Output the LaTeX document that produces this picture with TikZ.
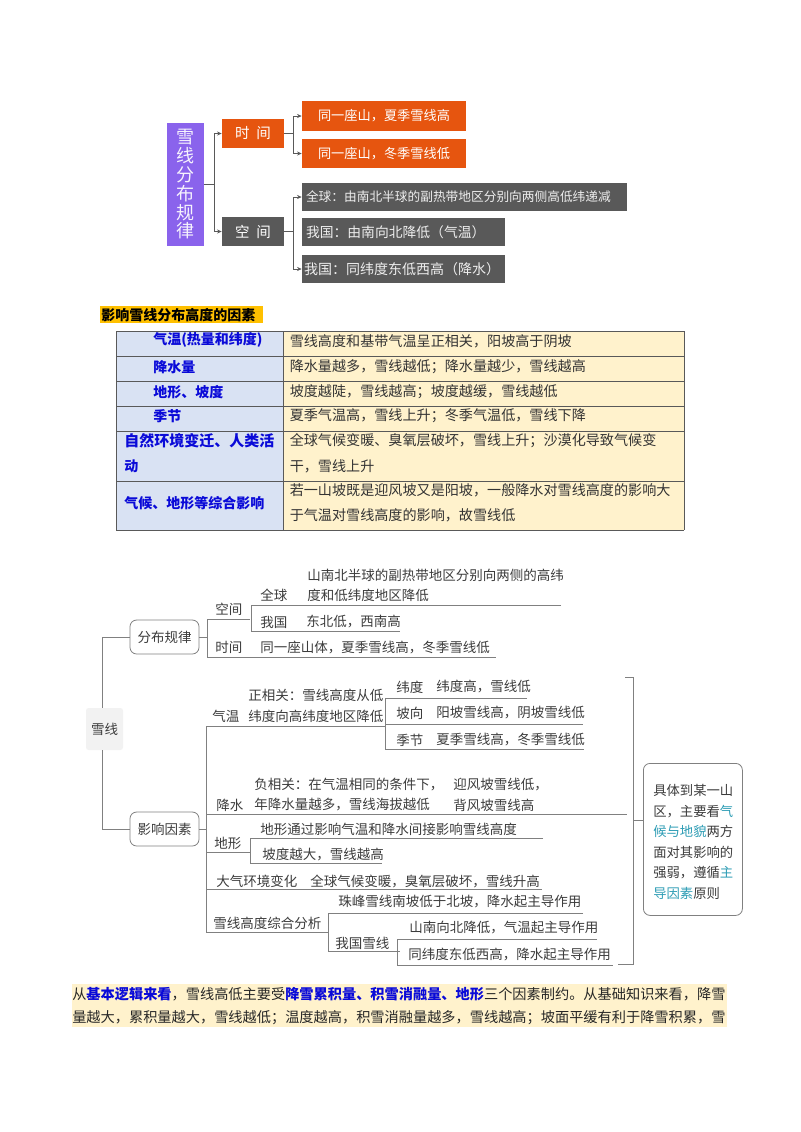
\documentclass[tikz,border=0pt]{standalone}
\usepackage{fontspec}
\setmainfont{Noto Sans CJK SC}
\usetikzlibrary{arrows.meta}
\definecolor{orangeb}{HTML}{E6550F}
\definecolor{darkb}{HTML}{595959}
\definecolor{purpleb}{HTML}{8A63EC}
\definecolor{hilite}{HTML}{FFC000}
\definecolor{tblblue}{HTML}{D9E2F3}
\definecolor{tblcream}{HTML}{FFF2CC}
\definecolor{blueink}{HTML}{0A0AD8}
\definecolor{tealink}{HTML}{2E9DB5}
\definecolor{scanink}{HTML}{3C3C3C}
\definecolor{scanline}{HTML}{808080}
\newcommand{\fsz}[1]{\fontsize{\dimexpr#1pt*3/4\relax}{\dimexpr#1pt*9/10\relax}\selectfont}
% name, x, y, text
\newcommand{\Tb}[4]{\node[tabtext] (#1) at (#2,#3) {#4};}
\newcommand{\Tk}[4]{\node[tabkey] (#1) at (#2,#3) {#4};}
\newcommand{\Sc}[4]{\node[scantext] (#1) at (#2,#3) {#4};}
\tikzset{
  x=0.75pt, y=-0.75pt,
  fillbox/.style={draw=none, inner sep=0pt, align=center, text=white},
  darkline/.style={fill=darkb, inner ysep=0pt, inner xsep=0pt, align=left, text=white!90!darkb, minimum height=21pt},
  conn/.style={draw=black!65, line width=0.6pt, -{Stealth[length=3.5pt,width=3pt]}},
  tabtext/.style={anchor=west, inner sep=0pt, text=black!80, font=\fsz{14.1}},
  tabkey/.style={anchor=west, inner sep=0pt, text=blueink, font=\fsz{14}\bfseries},
  scantext/.style={anchor=west, inner sep=0pt, text=scanink, font=\fsz{13.5}},
  scan/.style={draw=scanline, line width=0.6pt},
  rbox/.style={draw=scanline, line width=0.6pt, rounded corners=5pt, inner sep=0pt},
  tline/.style={draw=black!65, line width=0.75pt},
}
\begin{document}
\begin{tikzpicture}
\useasboundingbox (0,0) rectangle (800,1132);
\fill[white] (0,0) rectangle (800,1132);

% --- top chart ---
\node[fillbox, fill=purpleb, minimum width=28pt, minimum height=92.25pt, font=\fontsize{13.5pt}{14.1pt}\selectfont, text=white!92!purpleb] (root) at (185.5,184.5)
  {雪\\线\\分\\布\\规\\律};
\node[fillbox, fill=orangeb, minimum width=46.5pt, minimum height=21.75pt, font=\fsz{14.5}] (time) at (253,133.5) {时\hspace{5pt}间};
\node[fillbox, fill=darkb, minimum width=46.5pt, minimum height=21.75pt, font=\fsz{14.5}] (space) at (253,231.5) {空\hspace{5pt}间};
\node[fillbox, fill=orangeb, minimum width=123pt, minimum height=22.5pt, font=\fsz{13.2}] (t1) at (384,116) {同一座山，夏季雪线高};
\node[fillbox, fill=orangeb, minimum width=123pt, minimum height=22pt, font=\fsz{13.2}] (t2) at (384,153.5) {同一座山，冬季雪线低};
\node[darkline, text width=240.75pt, inner xsep=1.5pt, font=\fsz{12.7}] (s1) at (464.5,197) {\hspace{1.5pt}全球：由南北半球的副热带地区分别向两侧高低纬递减};
\node[darkline, text width=149.25pt, inner xsep=1.5pt, font=\fsz{13.8}] (s2) at (403.5,232) {\hspace{1.5pt}我国：由南向北降低（气温）};
\node[darkline, text width=149.25pt, inner xsep=1.5pt, font=\fsz{14}] (s3) at (403.5,269) {我国：同纬度东低西高（降水）};
\draw[conn] (root.east) -- ++(10,0) |- (time.west);
\draw[conn] (root.east) -- ++(10,0) |- (space.west);
\draw[conn] (time.east) -- ++(9,0) |- (t1.west);
\draw[conn] (time.east) -- ++(9,0) |- (t2.west);
\draw[conn] (space.east) -- ++(9,0) |- (s1.west);
\draw[conn] (space.east) -- ++(9,0) |- (s3.west);

% --- table ---
\fill[hilite] (100,306) rectangle (263,323);
\node[anchor=west, inner sep=0pt, font=\fsz{14}\bfseries, text=black] (tabtitle) at (101,315) {影响雪线分布高度的因素};
\fill[tblblue] (116,331) rectangle (283,530);
\fill[tblcream] (283,331) rectangle (684,530);
\foreach \yy in {331,356,381,406,431,481,530} \draw[tline] (116,\yy) -- (684,\yy);
\draw[tline] (116,331) -- (116,530);
\draw[tline] (283,331) -- (283,530);
\draw[tline] (684,331) -- (684,530);
\Tk{k1}{153}{340}{气温(热量和纬度)}
\Tk{k2}{153}{367}{降水量}
\Tk{k3}{153}{392}{地形、坡度}
\Tk{k4}{153}{416}{季节}
\node[tabkey, font=\fsz{15}\bfseries] (k5) at (124,441) {自然环境变迁、人类活};
\Tk{k5b}{124}{466}{动}
\Tk{k6}{124}{503}{气候、地形等综合影响}
\Tb{v1}{289.5}{341}{雪线高度和基带气温呈正相关，阳坡高于阴坡}
\Tb{v2}{289.5}{367}{降水量越多，雪线越低；降水量越少，雪线越高}
\Tb{v3}{289.5}{392}{坡度越陡，雪线越高；坡度越缓，雪线越低}
\Tb{v4}{289.5}{416}{夏季气温高，雪线上升；冬季气温低，雪线下降}
\Tb{v5}{289.5}{441}{全球气候变暖、臭氧层破坏，雪线上升；沙漠化导致气候变}
\Tb{v5b}{289.5}{466}{干，雪线上升}
\Tb{v6}{289.5}{490}{若一山坡既是迎风坡又是阳坡，一般降水对雪线高度的影响大}
\Tb{v6b}{289.5}{515}{于气温对雪线高度的影响，故雪线低}

% --- scanned tree ---
\node[fill=black!5, inner sep=0pt, minimum width=27.75pt, minimum height=31.5pt, rounded corners=2pt, font=\fsz{13.5}, text=scanink] (snow) at (104.5,729) {雪线};
\node[rbox, minimum width=51.75pt, minimum height=25.5pt, font=\fsz{13.5}, text=scanink] (rule) at (164.5,637) {分布规律};
\node[rbox, minimum width=51.75pt, minimum height=25.5pt, font=\fsz{13.5}, text=scanink] (factor) at (164.5,829) {影响因素};
\draw[scan] (rule.west) -- (102.5,637) -- (snow.north -| 102.5,0);
\draw[scan] (factor.west) -- (102.5,829) -- (snow.south -| 102.5,0);

% distribution branch
\coordinate (trunkA) at (207,637);
\draw[scan] (rule.east) -- (trunkA);
\draw[scan] (250,619) -- (207,619) -- (207,657) -- (496,657);
\draw[scan] (561,605) -- (251,605) -- (251,631) -- (400,631);
\Sc{a1}{307}{575}{山南北半球的副热带地区分别向两侧的高纬}
\Sc{a2}{307}{595}{度和低纬度地区降低}
\Sc{a3}{260}{595}{全球}
\Sc{a4}{215}{609}{空间}
\Sc{a5}{260}{622}{我国}
\Sc{a6}{306}{622}{东北低，西南高}
\Sc{a7}{215}{647}{时间}
\Sc{a8}{260}{647}{同一座山体，夏季雪线高，冬季雪线低}

% temperature branch
\coordinate (trunkB) at (207,829);
\draw[scan] (factor.east) -- (trunkB);
\draw[scan] (385,726) -- (206,726) -- (206,932) -- (328,932);
\draw[scan] (527,698) -- (385.5,698) -- (385.5,749) -- (584,749);
\draw[scan] (385.5,724) -- (583,724);
\Sc{b1}{248}{695}{正相关：雪线高度从低}
\Sc{b2}{248}{716}{纬度向高纬度地区降低}
\Sc{b3}{212}{716}{气温}
\Sc{b4}{396}{687}{纬度}
\Sc{b5}{436}{687}{纬度高，雪线低}
\Sc{b6}{396}{713}{坡向}
\Sc{b7}{436}{713}{阳坡雪线高，阴坡雪线低}
\Sc{b8}{396}{740}{季节}
\Sc{b9}{436}{740}{夏季雪线高，冬季雪线低}

% precipitation
\draw[scan] (206,814) -- (627,814);
\Sc{c1}{216}{805}{降水}
\Sc{c2}{254}{785}{负相关：在气温相同的条件下，}
\Sc{c3}{254}{805}{年降水量越多，雪线海拔越低}
\Sc{c4}{453}{785}{迎风坡雪线低，}
\Sc{c5}{453}{805}{背风坡雪线高}

% terrain
\draw[scan] (206,852) -- (250,852);
\draw[scan] (543,838) -- (250,838) -- (250,863) -- (382,863);
\Sc{d1}{214}{843}{地形}
\Sc{d2}{260}{829}{地形通过影响气温和降水间接影响雪线高度}
\Sc{d3}{262}{855}{坡度越大，雪线越高}

% environment
\draw[scan] (206,889) -- (542,889);
\Sc{e1}{216}{881}{大气环境变化}
\Sc{e2}{310}{881}{全球气候变暖，臭氧层破坏，雪线升高}

% synthesis
\draw[scan] (583,913) -- (328,913) -- (328,951) -- (400,951);
\draw[scan] (597,939) -- (397,939) -- (397,965) -- (613,965);
\Sc{f1}{213}{923}{雪线高度综合分析}
\Sc{f2}{338}{902}{珠峰雪线南坡低于北坡，降水起主导作用}
\Sc{f3}{335}{943}{我国雪线}
\Sc{f4}{409}{928}{山南向北降低，气温起主导作用}
\Sc{f5}{408}{954}{同纬度东低西高，降水起主导作用}

% bracket and note
\node[rbox, anchor=north west, minimum width=74.25pt, minimum height=114pt] (note) at (643,763) {};
\node[anchor=north west, inner sep=0pt, align=left, text=scanink, font=\fontsize{10pt}{15.45pt}\selectfont] (notetext) at (653,784)
  {具体到某一山\\区，主要看\textcolor{tealink}{气}\\\textcolor{tealink}{候与地貌}两方\\面对其影响的\\强弱，遵循\textcolor{tealink}{主}\\\textcolor{tealink}{导因素}原则};
\draw[scan] (625,677) -- (633,677) -- (633,964) -- (618,964);
\draw[scan] (note.west |- 0,820.5) -- (633,820.5);

% --- closing paragraph ---
\fill[tblcream] (72,984) rectangle (727,1027);
\node[anchor=west, inner sep=0pt, font=\fsz{14.2}, text=black!85] (para1) at (72,994)
  {从\textcolor{blueink}{\bfseries 基本逻辑来看}，雪线高低主要受\textcolor{blueink}{\bfseries 降雪累积量、积雪消融量、地形}三个因素制约。从基础知识来看，降雪};
\node[anchor=west, inner sep=0pt, font=\fsz{14.2}, text=black!85] (para2) at (72,1018)
  {量越大，累积量越大，雪线越低；温度越高，积雪消融量越多，雪线越高；坡面平缓有利于降雪积累，雪};
\end{tikzpicture}
\end{document}
